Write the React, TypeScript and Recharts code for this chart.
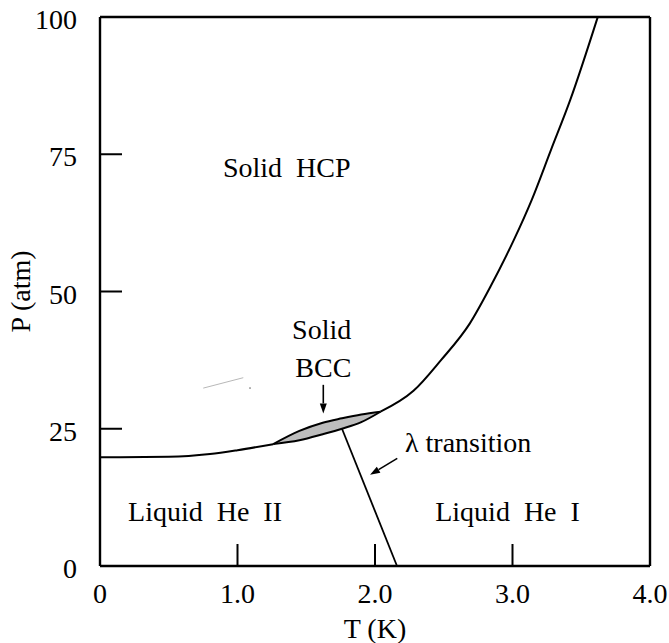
import React from "react";
import {
  ComposedChart,
  Line,
  Area,
  XAxis,
  YAxis,
  ReferenceLine,
  ReferenceDot,
} from "recharts";

// Helium-4 phase boundaries, T in kelvin, P in atm
const meltingLow = [
  { T: 0, P: 19.8 },
  { T: 0.5, P: 19.9 },
  { T: 0.8, P: 20.4 },
  { T: 1.0, P: 21.1 },
  { T: 1.26, P: 22.2 },
];

const meltingHigh = [
  { T: 2.04, P: 28.1 },
  { T: 2.28, P: 31.9 },
  { T: 2.48, P: 37.5 },
  { T: 2.69, P: 44.2 },
  { T: 2.84, P: 50.9 },
  { T: 3.01, P: 59.4 },
  { T: 3.14, P: 66.7 },
  { T: 3.28, P: 75.8 },
  { T: 3.42, P: 84.9 },
  { T: 3.62, P: 100 },
];

// bcc pocket between the two solid phases
const bccLens = [
  { T: 1.26, lo: 22.2, hi: 22.2 },
  { T: 1.45, lo: 22.9, hi: 24.6 },
  { T: 1.62, lo: 24.0, hi: 26.1 },
  { T: 1.76, lo: 25.0, hi: 26.9 },
  { T: 1.9, lo: 26.2, hi: 27.6 },
  { T: 2.04, lo: 28.1, hi: 28.1 },
];

const lambdaLine = [
  { T: 1.76, P: 25.0 },
  { T: 2.16, P: 0 },
];

const xTicks = [0, 1, 2, 3, 4];
const yTicks = [0, 25, 50, 75, 100];

// region names: text, anchor point (T, P), text-anchor
const regionLabels = [
  { text: "Solid  HCP", T: 1.358, P: 70.9, anchor: "middle" },
  { text: "Solid", T: 1.612, P: 41.4, anchor: "middle" },
  { text: "BCC", T: 1.624, P: 34.5, anchor: "middle" },
  { text: "λ transition", T: 2.218, P: 20.8, anchor: "start" },
  { text: "Liquid  He  II", T: 0.764, P: 8.2, anchor: "middle" },
  { text: "Liquid  He  I", T: 2.964, P: 8.2, anchor: "middle" },
];

// pointer arrows: [from, to]
const bccArrow = [
  { x: 1.624, y: 33.0 },
  { x: 1.624, y: 27.8 },
];
const lambdaArrow = [
  { x: 2.162, y: 19.6 },
  { x: 1.964, y: 16.6 },
];

// faint stray stroke left in the drawing
const strayStroke = [
  { x: 0.751, y: 32.4 },
  { x: 1.042, y: 34.3 },
];
const strayDot = { x: 1.091, y: 32.4 };

const FONT = "'Liberation Serif', 'Times New Roman', Times, serif";
const TICK_LEN = 22;

const fmtT = (v: number) => (v === 0 ? "0" : v.toFixed(1));

const BottomTick = (props: any) => {
  const { x, y, payload } = props;
  return (
    <g>
      <line x1={x} x2={x} y1={y} y2={y - TICK_LEN} stroke="#000" strokeWidth={2} />
      <text x={x} y={y + 37} textAnchor="middle" fontFamily={FONT} fontSize={28} fill="#000">
        {fmtT(payload.value)}
      </text>
    </g>
  );
};

const TopTick = (props: any) => {
  const { x, y } = props;
  return <line x1={x} x2={x} y1={y} y2={y + TICK_LEN} stroke="#000" strokeWidth={2} />;
};

const LeftTick = (props: any) => {
  const { x, y, payload } = props;
  return (
    <g>
      <line x1={x} x2={x + TICK_LEN} y1={y} y2={y} stroke="#000" strokeWidth={2} />
      <text x={x - 23} y={y + 12} textAnchor="end" fontFamily={FONT} fontSize={28} fill="#000">
        {payload.value}
      </text>
    </g>
  );
};

const RightTick = (props: any) => {
  const { x, y } = props;
  return <line x1={x - TICK_LEN} x2={x} y1={y} y2={y} stroke="#000" strokeWidth={2} />;
};

const Arrow = (props: any) => {
  const { x1, y1, x2, y2 } = props;
  const ang = Math.atan2(y2 - y1, x2 - x1);
  const len = 10;
  const half = 3.5;
  const bx = x2 - len * Math.cos(ang);
  const by = y2 - len * Math.sin(ang);
  const nx = -Math.sin(ang) * half;
  const ny = Math.cos(ang) * half;
  return (
    <g>
      <line x1={x1} y1={y1} x2={bx} y2={by} stroke="#000" strokeWidth={1.6} />
      <polygon points={`${x2},${y2} ${bx + nx},${by + ny} ${bx - nx},${by - ny}`} fill="#000" />
    </g>
  );
};

const labelShape = (text: string, anchor: string) => (p: any) => (
  <text
    x={p.cx}
    y={p.cy}
    textAnchor={anchor}
    fontFamily={FONT}
    fontSize={28}
    fill="#000"
    style={{ whiteSpace: "pre" }}
  >
    {text}
  </text>
);

const frame = { stroke: "#000", strokeWidth: 2.4 };

export default function App() {
  return (
    <div style={{ position: "absolute", left: 0, top: 0, width: 669, height: 643, background: "#fff" }}>
      <ComposedChart width={669} height={643} margin={{ top: 0, right: 0, bottom: 0, left: 0 }}>
        <XAxis
          xAxisId="b"
          dataKey="T"
          type="number"
          domain={[0, 4]}
          ticks={xTicks}
          interval={0}
          height={77}
          tickSize={0}
          tickMargin={0}
          tickLine={false}
          axisLine={frame}
          tick={<BottomTick />}
          label={{
            content: (p: any) => (
              <text
                x={p.viewBox.x + p.viewBox.width / 2}
                y={p.viewBox.y + 72}
                textAnchor="middle"
                fontFamily={FONT}
                fontSize={28}
                fill="#000"
              >
                T (K)
              </text>
            ),
          }}
        />
        <XAxis
          xAxisId="t"
          orientation="top"
          type="number"
          domain={[0, 4]}
          ticks={xTicks}
          interval={0}
          height={17}
          tickSize={0}
          tickMargin={0}
          tickLine={false}
          axisLine={frame}
          tick={<TopTick />}
        />
        <YAxis
          yAxisId="l"
          type="number"
          domain={[0, 100]}
          ticks={yTicks}
          interval={0}
          width={100}
          tickSize={0}
          tickMargin={0}
          tickLine={false}
          axisLine={frame}
          tick={<LeftTick />}
          label={{
            content: (p: any) => {
              const cx = p.viewBox.x + p.viewBox.width - 70;
              const cy = p.viewBox.y + p.viewBox.height / 2;
              return (
                <text
                  x={cx}
                  y={cy}
                  transform={`rotate(-90, ${cx}, ${cy})`}
                  textAnchor="middle"
                  fontFamily={FONT}
                  fontSize={28}
                  fill="#000"
                >
                  P (atm)
                </text>
              );
            },
          }}
        />
        <YAxis
          yAxisId="r"
          orientation="right"
          type="number"
          domain={[0, 100]}
          ticks={yTicks}
          interval={0}
          width={19}
          tickSize={0}
          tickMargin={0}
          tickLine={false}
          axisLine={frame}
          tick={<RightTick />}
        />

        <Area
          xAxisId="b"
          yAxisId="l"
          data={bccLens}
          dataKey={(d: any) => [d.lo, d.hi]}
          type="monotone"
          fill="#bdbdbd"
          fillOpacity={1}
          stroke="#000"
          strokeWidth={2}
          isAnimationActive={false}
          dot={false}
          activeDot={false}
        />
        <Line
          xAxisId="b"
          yAxisId="l"
          data={meltingLow}
          dataKey="P"
          type="monotone"
          stroke="#000"
          strokeWidth={2}
          dot={false}
          activeDot={false}
          isAnimationActive={false}
        />
        <Line
          xAxisId="b"
          yAxisId="l"
          data={meltingHigh}
          dataKey="P"
          type="monotone"
          stroke="#000"
          strokeWidth={2}
          dot={false}
          activeDot={false}
          isAnimationActive={false}
        />
        <Line
          xAxisId="b"
          yAxisId="l"
          data={lambdaLine}
          dataKey="P"
          type="linear"
          stroke="#000"
          strokeWidth={1.8}
          dot={false}
          activeDot={false}
          isAnimationActive={false}
        />

        <ReferenceLine
          xAxisId="b"
          yAxisId="l"
          segment={bccArrow}
          ifOverflow="visible"
          shape={Arrow}
        />
        <ReferenceLine
          xAxisId="b"
          yAxisId="l"
          segment={lambdaArrow}
          ifOverflow="visible"
          shape={Arrow}
        />
        <ReferenceLine
          xAxisId="b"
          yAxisId="l"
          segment={strayStroke}
          ifOverflow="visible"
          stroke="#b8b8b8"
          strokeWidth={1}
        />
        <ReferenceDot
          xAxisId="b"
          yAxisId="l"
          x={strayDot.x}
          y={strayDot.y}
          r={0.8}
          fill="#666"
          stroke="none"
          ifOverflow="visible"
        />

        {regionLabels.map((l) => (
          <ReferenceDot
            key={l.text}
            xAxisId="b"
            yAxisId="l"
            x={l.T}
            y={l.P}
            r={0}
            ifOverflow="visible"
            shape={labelShape(l.text, l.anchor)}
          />
        ))}
      </ComposedChart>
    </div>
  );
}
